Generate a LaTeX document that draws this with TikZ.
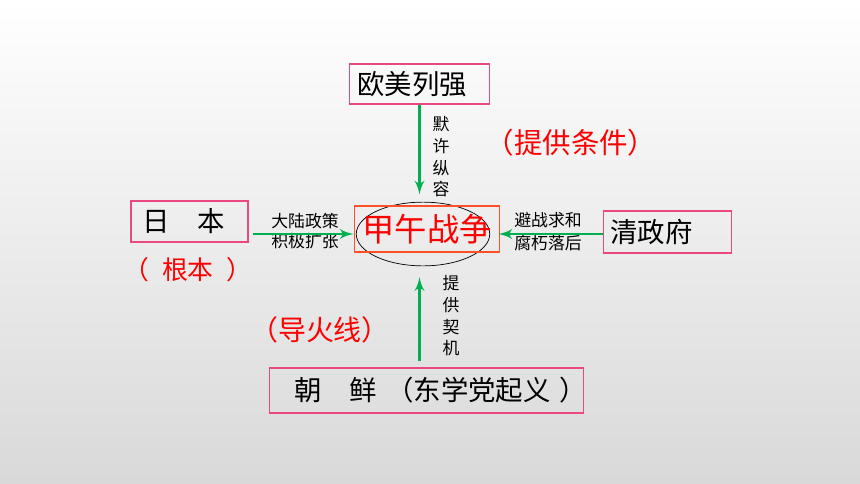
\documentclass[tikz,border=0pt]{standalone}
\usepackage{fontspec}
\setmainfont{Noto Sans CJK SC}
\usetikzlibrary{arrows,shapes}

\definecolor{boxpink}{RGB}{233,72,130}
\definecolor{warred}{RGB}{255,80,40}
\definecolor{arrowgreen}{RGB}{0,176,80}
\definecolor{notered}{RGB}{255,0,0}

% one pixel of the slide
\newdimen\pxu \pxu=0.5669pt

\begin{document}
\begin{tikzpicture}[x=0.02cm,y=-0.02cm,>=latex']

  \tikzstyle{party}=[rectangle,draw=boxpink,line width=0.85pt,align=left,inner ysep=0pt,
                     font=\fontsize{15.6pt}{18pt}\selectfont]
  \tikzstyle{link}=[draw=arrowgreen,line width=1.7pt]
  \tikzstyle{reason}=[align=center,inner sep=0pt,font=\fontsize{9.6pt}{12.3pt}\selectfont]
  \tikzstyle{role}=[inner sep=0pt,text=notered]

  % background
  \shade [top color=white,bottom color=black!15] (0,0) rectangle (860,484);

  \node [party,minimum height=40\pxu,inner xsep=8\pxu,text width=125\pxu]  (powers) at (419.5,84)    {欧美列强};
  \node [party,minimum height=41\pxu,inner xsep=11\pxu,text width=95\pxu]  (japan)  at (189.5,221.5) {日　本};
  \node [party,minimum height=42\pxu,inner xsep=7\pxu,text width=115\pxu]  (qing)   at (667.5,232)   {清政府};
  \node [party,minimum height=45\pxu,inner xsep=25\pxu,text width=265\pxu] (korea)  at (426.5,390.5)
        {\mbox{朝　鲜\kern0.35em（东学党起义\kern0.3em）}};

  \node [ellipse,draw=black,thin,minimum width=134\pxu,minimum height=64\pxu] (ell) at (423,234) {};
  \node [rectangle,draw=warred,line width=0.85pt,minimum width=146\pxu,minimum height=46\pxu,text=notered,
         font=\fontsize{18.4pt}{20pt}\selectfont] (war) at (427,229) {甲午战争};

  \node [reason] (connive) at (441,157) {默\\许\\纵\\容};
  \node [reason] (chance)  at (451,316) {提\\供\\契\\机};
  \node [reason,font=\fontsize{9.6pt}{11.3pt}\selectfont] (policy) at (305,231)   {大陆政策\\积极扩张};
  \node [reason,font=\fontsize{9.6pt}{13pt}\selectfont]   (decay)  at (548,231.5) {避战求和\\腐朽落后};

  \node [role,font=\fontsize{16.2pt}{18pt}\selectfont] (condition) at (571,143) {（提供条件）};
  \node [role,font=\fontsize{14.7pt}{18pt}\selectfont] (root)      at (188,270)
        {（\kern0.5em根本\kern0.5em）};
  \node [role,font=\fontsize{15.9pt}{18pt}\selectfont] (fuse)      at (320,330) {（导火线）};

  \draw [link,->,shorten >=11\pxu] (powers.south) -- (powers.south |- war.north);
  \draw [link,->,shorten <=5\pxu] (japan.east |- ell) -- (war.west |- ell);
  \draw [link,->,shorten >=-2\pxu] (qing.west |- ell) -- (war.east |- ell);
  \draw [link,<-,shorten <=11\pxu,shorten >=6\pxu] (powers.south |- ell.south) -- (powers.south |- korea.north);

\end{tikzpicture}
\end{document}
